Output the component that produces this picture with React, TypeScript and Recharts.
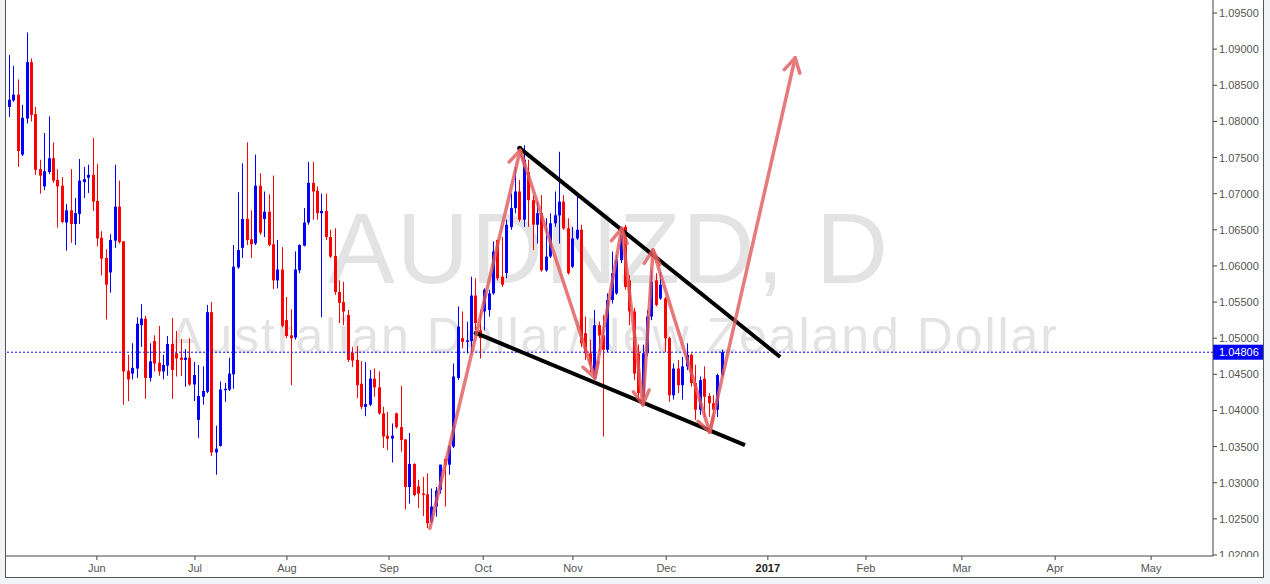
import { ComposedChart, Bar, XAxis, YAxis, ReferenceLine } from "recharts";

// daily AUDNZD candles (May - Dec 2016)
const opens = [
  1.0820, 1.0829, 1.0837, 1.0754, 1.0804, 1.0882, 1.0810, 1.0734, 1.0710, 1.0730,
  1.0749, 1.0719, 1.0711, 1.0660, 1.0677, 1.0658, 1.0672, 1.0716, 1.0722, 1.0726,
  1.0690, 1.0639, 1.0611, 1.0591, 1.0635, 1.0682, 1.0634, 1.0455, 1.0451, 1.0458,
  1.0518, 1.0527, 1.0445, 1.0496, 1.0466, 1.0454, 1.0462, 1.0492, 1.0479, 1.0473,
  1.0470, 1.0473, 1.0436, 1.0387, 1.0419, 1.0426, 1.0536, 1.0342, 1.0351, 1.0428,
  1.0429, 1.0450, 1.0598, 1.0625, 1.0665, 1.0637, 1.0631, 1.0711, 1.0665, 1.0675,
  1.0630, 1.0580, 1.0595, 1.0525, 1.0504, 1.0501, 1.0594, 1.0628, 1.0660, 1.0715,
  1.0704, 1.0673, 1.0676, 1.0640, 1.0614, 1.0564, 1.0550, 1.0532, 1.0480, 1.0470,
  1.0437, 1.0405, 1.0408, 1.0444, 1.0432, 1.0396, 1.0365, 1.0361, 1.0396, 1.0377,
  1.0360, 1.0294, 1.0326, 1.0295, 1.0285, 1.0284, 1.0246, 1.0267, 1.0290, 1.0333,
  1.0325, 1.0350, 1.0445, 1.0500, 1.0495, 1.0496, 1.0559, 1.0511, 1.0537, 1.0539,
  1.0562, 1.0636, 1.0585, 1.0590, 1.0654, 1.0680, 1.0703, 1.0664, 1.0730, 1.0691,
  1.0657, 1.0673, 1.0594, 1.0613, 1.0659, 1.0670, 1.0689, 1.0652, 1.0599, 1.0638,
  1.0650, 1.0507, 1.0479, 1.0449, 1.0518, 1.0504, 1.0484, 1.0553, 1.0562, 1.0608,
  1.0654, 1.0580, 1.0537, 1.0479, 1.0419, 1.0479, 1.0530, 1.0580, 1.0555, 1.0555,
  1.0500, 1.0421, 1.0458, 1.0435, 1.0461, 1.0477, 1.0438, 1.0401, 1.0444, 1.0420,
  1.0410, 1.0401, 1.0449,
];
const highs = [
  1.0892, 1.0877, 1.0858, 1.0823, 1.0923, 1.0887, 1.0820, 1.0747, 1.0784, 1.0807,
  1.0771, 1.0734, 1.0723, 1.0686, 1.0734, 1.0694, 1.0748, 1.0737, 1.0740, 1.0777,
  1.0741, 1.0648, 1.0623, 1.0644, 1.0740, 1.0718, 1.0634, 1.0477, 1.0493, 1.0529,
  1.0547, 1.0531, 1.0493, 1.0504, 1.0517, 1.0477, 1.0503, 1.0528, 1.0510, 1.0499,
  1.0485, 1.0500, 1.0467, 1.0463, 1.0461, 1.0546, 1.0550, 1.0379, 1.0440, 1.0438,
  1.0473, 1.0629, 1.0702, 1.0742, 1.0771, 1.0677, 1.0754, 1.0728, 1.0703, 1.0699,
  1.0725, 1.0636, 1.0626, 1.0557, 1.0540, 1.0620, 1.0630, 1.0680, 1.0744, 1.0744,
  1.0710, 1.0700, 1.0700, 1.0650, 1.0652, 1.0580, 1.0578, 1.0539, 1.0488, 1.0489,
  1.0468, 1.0467, 1.0456, 1.0458, 1.0454, 1.0405, 1.0398, 1.0382, 1.0397, 1.0434,
  1.0360, 1.0369, 1.0327, 1.0304, 1.0308, 1.0313, 1.0292, 1.0294, 1.0325, 1.0333,
  1.0351, 1.0465, 1.0544, 1.0537, 1.0523, 1.0585, 1.0583, 1.0539, 1.0569, 1.0567,
  1.0634, 1.0636, 1.0640, 1.0664, 1.0700, 1.0737, 1.0719, 1.0767, 1.0747, 1.0698,
  1.0689, 1.0698, 1.0666, 1.0673, 1.0703, 1.0758, 1.0698, 1.0666, 1.0654, 1.0698,
  1.0657, 1.0530, 1.0498, 1.0539, 1.0523, 1.0532, 1.0562, 1.0620, 1.0615, 1.0654,
  1.0657, 1.0587, 1.0542, 1.0491, 1.0491, 1.0539, 1.0594, 1.0590, 1.0592, 1.0557,
  1.0502, 1.0465, 1.0470, 1.0474, 1.0493, 1.0479, 1.0463, 1.0447, 1.0461, 1.0424,
  1.0421, 1.0451, 1.0484,
];
const lows = [
  1.0806, 1.0827, 1.0737, 1.0752, 1.0797, 1.0800, 1.0726, 1.0700, 1.0705, 1.0727,
  1.0715, 1.0653, 1.0659, 1.0621, 1.0632, 1.0629, 1.0658, 1.0694, 1.0701, 1.0676,
  1.0627, 1.0587, 1.0526, 1.0563, 1.0625, 1.0631, 1.0408, 1.0413, 1.0443, 1.0445,
  1.0488, 1.0416, 1.0440, 1.0454, 1.0448, 1.0443, 1.0448, 1.0416, 1.0447, 1.0448,
  1.0433, 1.0434, 1.0413, 1.0362, 1.0408, 1.0424, 1.0337, 1.0311, 1.0350, 1.0412,
  1.0427, 1.0430, 1.0596, 1.0611, 1.0629, 1.0611, 1.0629, 1.0643, 1.0640, 1.0627,
  1.0568, 1.0569, 1.0515, 1.0500, 1.0435, 1.0498, 1.0590, 1.0627, 1.0657, 1.0664,
  1.0664, 1.0529, 1.0636, 1.0611, 1.0560, 1.0521, 1.0518, 1.0467, 1.0460, 1.0417,
  1.0402, 1.0392, 1.0406, 1.0419, 1.0394, 1.0348, 1.0345, 1.0328, 1.0375, 1.0343,
  1.0263, 1.0271, 1.0281, 1.0265, 1.0254, 1.0237, 1.0244, 1.0253, 1.0285, 1.0267,
  1.0311, 1.0348, 1.0442, 1.0486, 1.0479, 1.0479, 1.0511, 1.0472, 1.0511, 1.0530,
  1.0560, 1.0580, 1.0571, 1.0583, 1.0650, 1.0673, 1.0661, 1.0654, 1.0654, 1.0622,
  1.0631, 1.0592, 1.0592, 1.0611, 1.0654, 1.0631, 1.0650, 1.0588, 1.0597, 1.0636,
  1.0488, 1.0470, 1.0453, 1.0447, 1.0481, 1.0364, 1.0481, 1.0548, 1.0560, 1.0604,
  1.0567, 1.0518, 1.0442, 1.0415, 1.0417, 1.0475, 1.0525, 1.0544, 1.0553, 1.0481,
  1.0412, 1.0415, 1.0424, 1.0415, 1.0456, 1.0433, 1.0387, 1.0394, 1.0391, 1.0391,
  1.0384, 1.0391, 1.0447,
];
const closes = [
  1.0830, 1.0837, 1.0759, 1.0805, 1.0882, 1.0809, 1.0733, 1.0725, 1.0731, 1.0749,
  1.0718, 1.0710, 1.0661, 1.0677, 1.0658, 1.0673, 1.0718, 1.0720, 1.0726, 1.0689,
  1.0638, 1.0610, 1.0574, 1.0636, 1.0682, 1.0633, 1.0454, 1.0443, 1.0459, 1.0520,
  1.0527, 1.0445, 1.0468, 1.0465, 1.0454, 1.0463, 1.0492, 1.0456, 1.0472, 1.0470,
  1.0473, 1.0436, 1.0449, 1.0420, 1.0427, 1.0536, 1.0342, 1.0347, 1.0429, 1.0430,
  1.0451, 1.0599, 1.0622, 1.0665, 1.0636, 1.0630, 1.0711, 1.0646, 1.0675, 1.0629,
  1.0580, 1.0595, 1.0517, 1.0503, 1.0500, 1.0595, 1.0629, 1.0660, 1.0715, 1.0703,
  1.0673, 1.0676, 1.0640, 1.0613, 1.0564, 1.0549, 1.0537, 1.0470, 1.0469, 1.0435,
  1.0405, 1.0409, 1.0444, 1.0432, 1.0396, 1.0364, 1.0361, 1.0365, 1.0377, 1.0359,
  1.0294, 1.0326, 1.0283, 1.0285, 1.0283, 1.0244, 1.0267, 1.0289, 1.0325, 1.0325,
  1.0351, 1.0447, 1.0516, 1.0495, 1.0497, 1.0559, 1.0521, 1.0500, 1.0567, 1.0562,
  1.0620, 1.0583, 1.0574, 1.0657, 1.0680, 1.0703, 1.0664, 1.0747, 1.0691, 1.0657,
  1.0673, 1.0594, 1.0613, 1.0659, 1.0670, 1.0689, 1.0652, 1.0590, 1.0638, 1.0650,
  1.0493, 1.0479, 1.0463, 1.0518, 1.0504, 1.0484, 1.0553, 1.0590, 1.0608, 1.0643,
  1.0571, 1.0537, 1.0451, 1.0424, 1.0479, 1.0530, 1.0578, 1.0546, 1.0574, 1.0500,
  1.0421, 1.0458, 1.0435, 1.0461, 1.0477, 1.0438, 1.0401, 1.0442, 1.0419, 1.0410,
  1.0401, 1.0449, 1.04806,
];

// month boundaries, in candle-slot units
const monthTicks = [19.9, 42.2, 63.1, 86.3, 107.7, 128.1, 149.3, 172.4, 194.7, 216.5, 237.7, 259.5];
const monthLabels = ["Jun", "Jul", "Aug", "Sep", "Oct", "Nov", "Dec", "2017", "Feb", "Mar", "Apr", "May"];
const priceTicks = [
  1.02, 1.025, 1.03, 1.035, 1.04, 1.045, 1.05, 1.055, 1.06, 1.065, 1.07, 1.075, 1.08, 1.085, 1.09, 1.095,
];
const lastPrice = 1.04806;

// hand-drawn analysis, [slot, price]
const upperTrend = [[116.0, 1.0763], [175.2, 1.0474]];
const lowerTrend = [[106.1, 1.0507], [167.2, 1.0352]];
const zigzag = [
  [95.6, 1.0237], [116.1, 1.076], [133.1, 1.0445], [139.2, 1.0652],
  [144.0, 1.0408], [146.3, 1.0622], [159.2, 1.037], [178.6, 1.0888],
];

const data = opens.map((open, i) => ({ i, open, high: highs[i], low: lows[i], close: closes[i] }));

const FONT = "'Liberation Sans', Arial, sans-serif";

function Candle(props: any) {
  const { x, y, width, height, payload } = props;
  if (!payload) return null;
  const { open, close, high, low } = payload;
  const color = close >= open ? "#0000ff" : "#ff0000";
  const span = high - low || 1e-9;
  const py = (v: number) => y + ((high - v) / span) * height;
  const top = py(Math.max(open, close));
  const bot = py(Math.min(open, close));
  const cx = Math.floor(x + width / 2) + 0.5;
  const bx = Math.round(x);
  return (
    <g>
      <line x1={cx} x2={cx} y1={y} y2={y + height} stroke={color} strokeWidth={1} />
      <rect x={bx} y={top} width={3} height={Math.max(1, bot - top)} fill={color} />
    </g>
  );
}

function Arrow(props: any) {
  const { x1, y1, x2, y2 } = props;
  const ang = Math.atan2(y2 - y1, x2 - x1);
  const len = 16;
  const spread = 0.52;
  const ax = x2 - len * Math.cos(ang - spread);
  const ay = y2 - len * Math.sin(ang - spread);
  const bx = x2 - len * Math.cos(ang + spread);
  const by = y2 - len * Math.sin(ang + spread);
  return (
    <g opacity={0.8} stroke="#e05a5a" strokeWidth={3.5} strokeLinecap="round" strokeLinejoin="round" fill="none">
      <line x1={x1} y1={y1} x2={x2} y2={y2} />
      <polyline points={`${ax},${ay} ${x2},${y2} ${bx},${by}`} />
    </g>
  );
}

function TrendLine(props: any) {
  const { x1, y1, x2, y2 } = props;
  return (
    <g>
      <line x1={x1} y1={y1} x2={x2} y2={y2} stroke="#000" strokeWidth={4} />
      <circle cx={x1} cy={y1} r={2.5} fill="#000" />
    </g>
  );
}

function PriceTick(props: any) {
  const { x, y, payload } = props;
  return (
    <svg x={0} y={0} width={1270} height={557} overflow="hidden">
      <text x={x} y={y + 4} fill="#555" fontSize={11} fontFamily={FONT}>
        {payload.value.toFixed(5)}
      </text>
    </svg>
  );
}

function MonthTick(props: any) {
  const { x, y, payload } = props;
  const k = monthTicks.indexOf(payload.value);
  const label = monthLabels[k];
  const bold = label === "2017";
  return (
    <text
      x={x}
      y={y + 9.5}
      textAnchor="middle"
      fill={bold ? "#222" : "#555"}
      fontWeight={bold ? "bold" : "normal"}
      fontSize={11}
      fontFamily={FONT}
    >
      {label}
    </text>
  );
}

function PriceLabel(props: any) {
  const vb = props.viewBox;
  const left = vb.x + vb.width;
  return (
    <g>
      <rect x={left} y={vb.y - 7.5} width={50} height={15} fill="#0000ff" />
      <text x={left + 6} y={vb.y + 4} fill="#fff" fontSize={11} fontFamily={FONT}>
        {lastPrice.toFixed(5)}
      </text>
    </g>
  );
}

const seg = (pts: number[][], k: number) => [
  { x: pts[k][0], y: pts[k][1] },
  { x: pts[k + 1][0], y: pts[k + 1][1] },
];

export default function App() {
  return (
    <div style={{ position: "absolute", left: 0, top: 0, width: 1270, height: 584, background: "#f1f3f7", overflow: "hidden" }}>
      <div
        style={{
          position: "absolute",
          left: 5,
          top: -1,
          width: 1259,
          height: 579,
          boxSizing: "border-box",
          background: "#fff",
          border: "1px solid #555",
        }}
      />
      <svg style={{ position: "absolute", left: 0, top: 0 }} width={1270} height={584}>
        <text x={328} y={283} fontSize={100} fill="#e3e3e3" fontFamily={FONT} textLength={560} lengthAdjust="spacing">
          AUDNZD, D
        </text>
        <text x={169} y={353} fontSize={50} fill="#e3e3e3" fontFamily={FONT} textLength={888} lengthAdjust="spacing">
          Australian Dollar/New Zealand Dollar
        </text>
      </svg>
      <div style={{ position: "absolute", left: 0, top: 0 }}>
        <ComposedChart width={1270} height={584} data={data} margin={{ top: 0, right: 7, bottom: 7, left: 6 }}>
          <XAxis
            dataKey="i"
            type="number"
            domain={[-0.75, 273.57]}
            allowDataOverflow
            ticks={monthTicks}
            interval={0}
            height={21}
            tickSize={4}
            stroke="#444"
            tick={<MonthTick />}
          />
          <YAxis
            orientation="right"
            type="number"
            domain={[1.01986, 1.0968]}
            allowDataOverflow
            ticks={priceTicks}
            interval={0}
            width={50}
            tickSize={4}
            stroke="#444"
            tick={<PriceTick />}
          />
          <Bar
            dataKey={(d: any) => [d.low, d.high]}
            barSize={3}
            shape={(p: any) => <Candle {...p} />}
            isAnimationActive={false}
          />
          <ReferenceLine
            y={lastPrice}
            stroke="#0000ff"
            strokeDasharray="2 2"
            ifOverflow="visible"
            label={<PriceLabel />}
          />
          <ReferenceLine segment={seg(upperTrend, 0)} ifOverflow="visible" shape={(p: any) => <TrendLine {...p} />} />
          <ReferenceLine segment={seg(lowerTrend, 0)} ifOverflow="visible" shape={(p: any) => <TrendLine {...p} />} />
          {zigzag.slice(0, -1).map((_, k) => (
            <ReferenceLine key={k} segment={seg(zigzag, k)} ifOverflow="visible" shape={(p: any) => <Arrow {...p} />} />
          ))}
        </ComposedChart>
      </div>
    </div>
  );
}
